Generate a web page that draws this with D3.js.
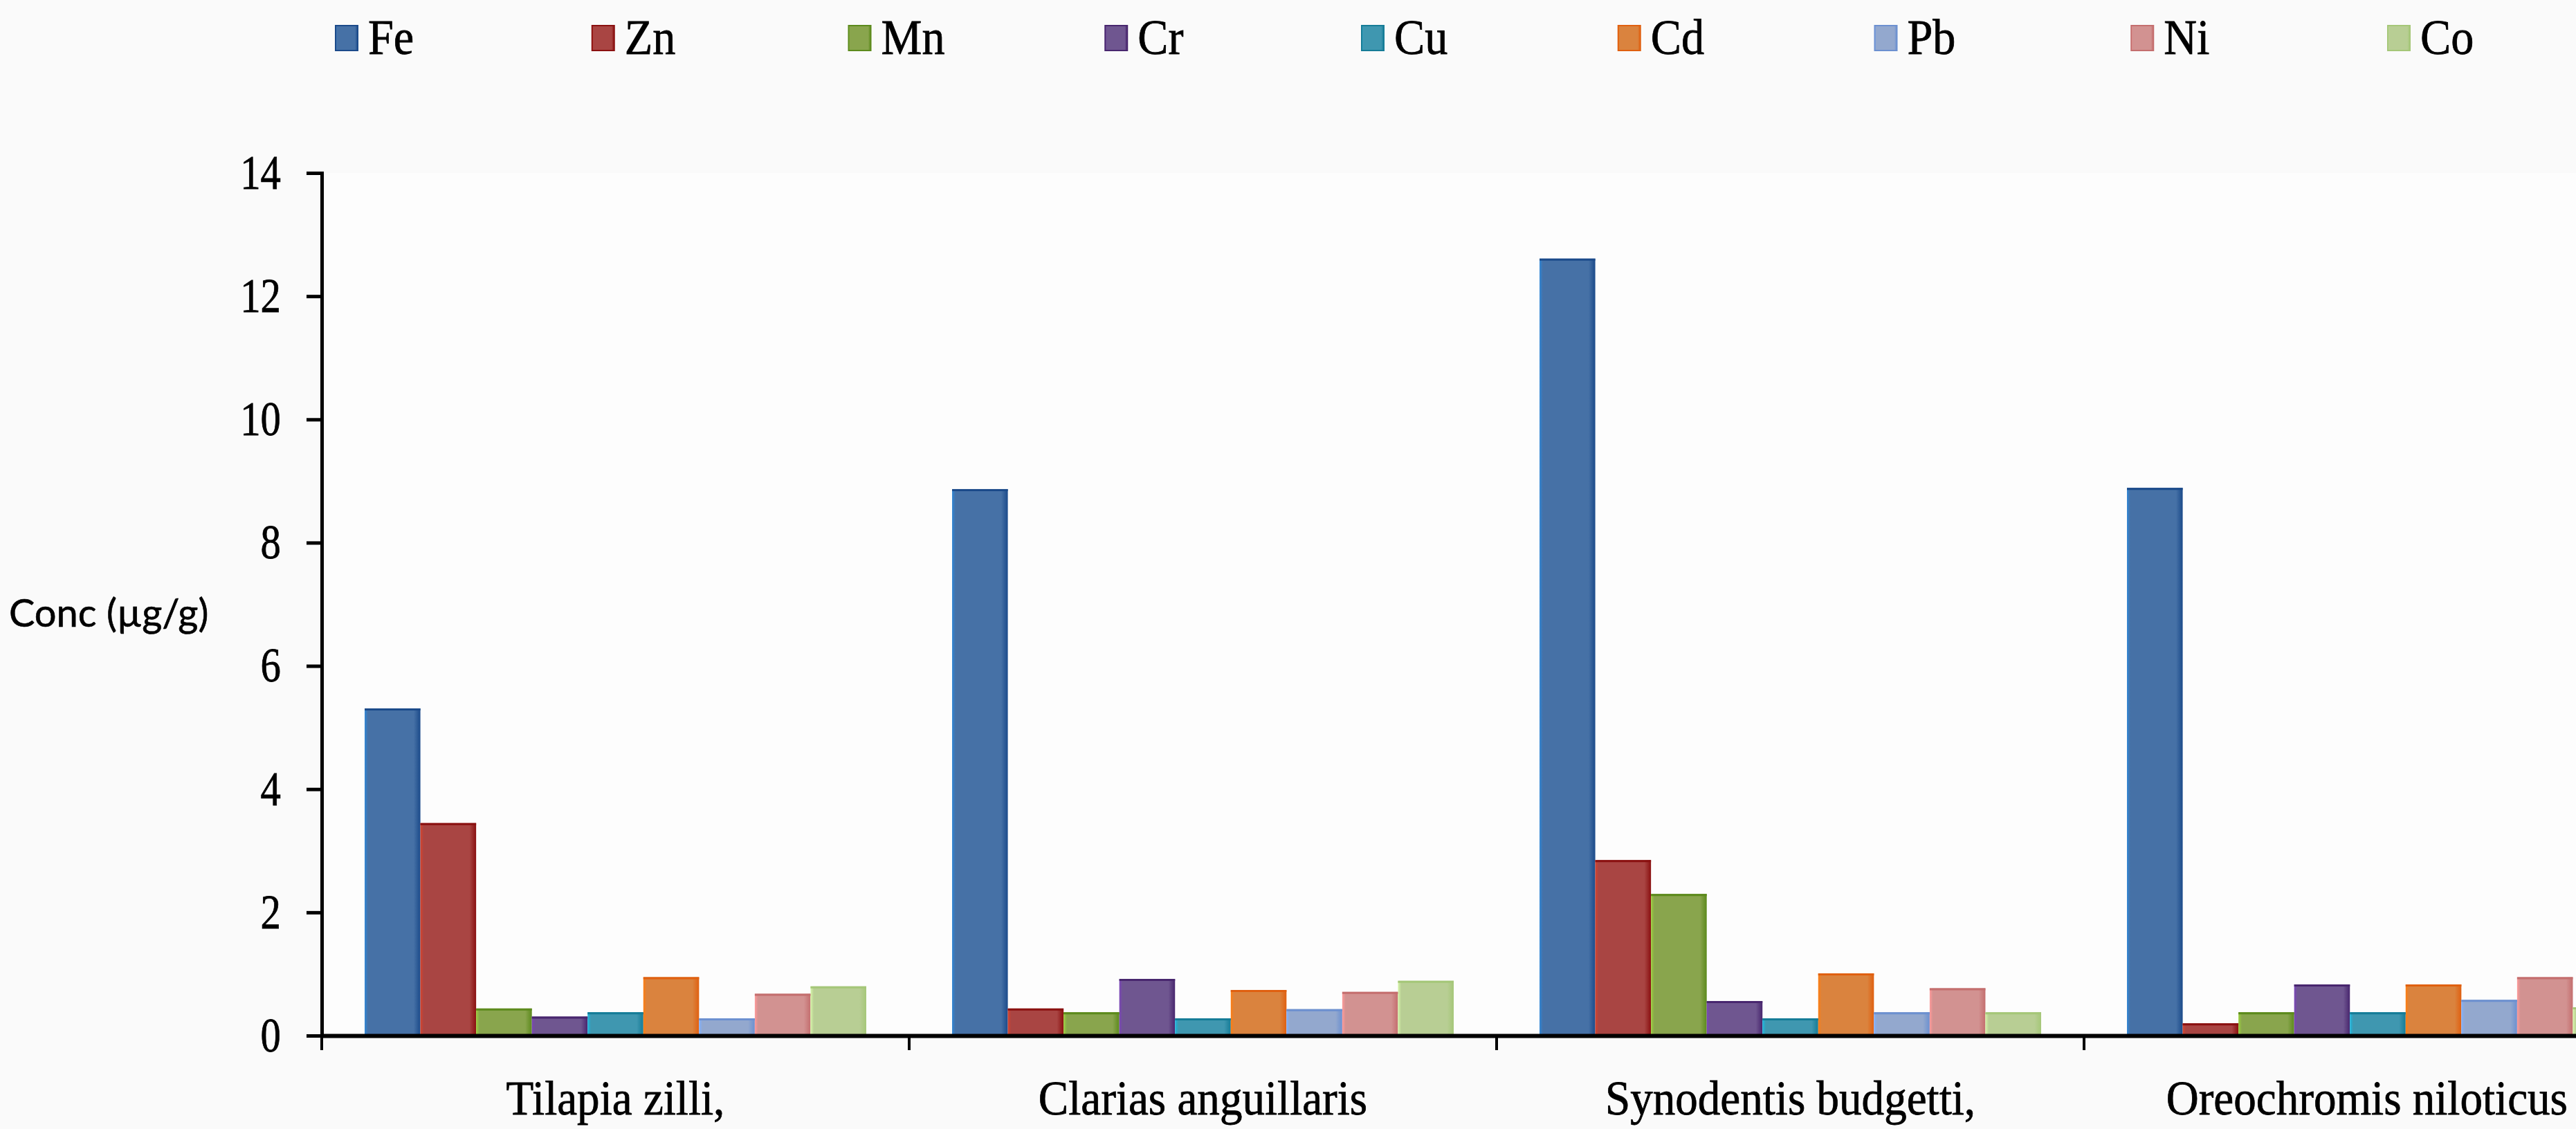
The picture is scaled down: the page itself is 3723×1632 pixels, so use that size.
<!DOCTYPE html>
<html>
<head>
<meta charset="utf-8">
<script src="https://cdn.jsdelivr.net/npm/d3@7/dist/d3.min.js"></script>
<style>
  html, body { margin: 0; padding: 0; background: #fafafa; overflow: hidden; }
</style>
</head>
<body>
<div id="chart"></div>
<script>
// fish species on the x axis
var species = ["Tilapia zilli,", "Clarias anguillaris", "Synodentis budgetti,", "Oreochromis niloticus"];
var metals = ["Fe", "Zn", "Mn", "Cr", "Cu", "Cd", "Pb", "Ni", "Co"];

// concentrations (µg/g), one value per species
var fe = [5.31, 8.87, 12.61, 8.89];
var zn = [3.45, 0.44, 2.85, 0.20];
var mn = [0.44, 0.38, 2.30, 0.38];
var cr = [0.31, 0.92, 0.56, 0.83];
var cu = [0.38, 0.28, 0.28, 0.38];
var cd = [0.95, 0.74, 1.01, 0.83];
var pb = [0.28, 0.43, 0.38, 0.58];
var ni = [0.68, 0.71, 0.77, 0.95];
var co = [0.80, 0.89, 0.38, 0.46];

var yTicks = [0, 2, 4, 6, 8, 10, 12, 14];

var series = { Fe: fe, Zn: zn, Mn: mn, Cr: cr, Cu: cu, Cd: cd, Pb: pb, Ni: ni, Co: co };

// excel 2007 style fills, with a darker edge and a light highlight
var fills = ["#4671a6", "#a94543", "#89a54d", "#6f5690", "#3f97b0", "#da833e", "#93a8ce", "#d29291", "#b8ce94"];
var edges = ["#1b4a8a", "#8a1010", "#5c8a1c", "#48266e", "#157c97", "#e06010", "#6c90d0", "#c46e6e", "#a5c778"];
var lights = ["#2f86d6", "#d8432c", "#9bd23c", "#7a44b8", "#19b8e0", "#ff7d10", "#7fb0ff", "#ff9a9a", "#d6f5a8"];

var w = 3723,
  h = 1632;

var svg = d3.select("#chart")
  .append("svg")
  .attr("width", w)
  .attr("height", h);

var serif = "'Liberation Serif', 'Times New Roman', serif";

var x0 = d3.scaleBand()
  .domain(species)
  .range([465, 465 + 4 * 849]);

var x1 = d3.scaleBand()
  .domain(metals)
  .range([0, x0.bandwidth()])
  .paddingInner(0)
  .paddingOuter(0.77);

var y = d3.scaleLinear()
  .domain([0, 14])
  .range([1497, 250]);

var color = d3.scaleOrdinal().domain(metals).range(fills);
var edge = d3.scaleOrdinal().domain(metals).range(edges);
var light = d3.scaleOrdinal().domain(metals).range(lights);

// plot area, slightly whiter than the page
svg.append("rect")
  .attr("x", x0.range()[0])
  .attr("y", y(14))
  .attr("width", w - x0.range()[0])
  .attr("height", y(0) - y(14))
  .attr("fill", "#fdfdfd");

// gradients for the bars
var defs = svg.append("defs");
metals.forEach(function(m, i) {
  var g = defs.append("linearGradient")
    .attr("id", "grad" + i)
    .attr("x1", "0%").attr("x2", "100%")
    .attr("y1", "0%").attr("y2", "0%");
  g.append("stop").attr("offset", "0%").attr("stop-color", light(m));
  g.append("stop").attr("offset", "6%").attr("stop-color", color(m));
  g.append("stop").attr("offset", "88%").attr("stop-color", color(m));
  g.append("stop").attr("offset", "100%").attr("stop-color", edge(m));
});

// bars
var groups = svg.selectAll("g.species")
  .data(species)
  .enter()
  .append("g")
  .attr("class", "species")
  .attr("transform", function(d) { return "translate(" + x0(d) + ",0)"; });

groups.selectAll("rect")
  .data(function(d, i) {
    return metals.map(function(m) { return { metal: m, value: series[m][i] }; });
  })
  .enter()
  .append("rect")
  .attr("x", function(d) { return x1(d.metal); })
  .attr("y", function(d) { return y(d.value); })
  .attr("width", x1.bandwidth())
  .attr("height", function(d) { return y(0) - y(d.value); })
  .attr("fill", function(d) { return "url(#grad" + metals.indexOf(d.metal) + ")"; });

// dark top edge of each bar
groups.selectAll("line.top")
  .data(function(d, i) {
    return metals.map(function(m) { return { metal: m, value: series[m][i] }; });
  })
  .enter()
  .append("line")
  .attr("class", "top")
  .attr("x1", function(d) { return x1(d.metal); })
  .attr("x2", function(d) { return x1(d.metal) + x1.bandwidth(); })
  .attr("y1", function(d) { return y(d.value) + 1.5; })
  .attr("y2", function(d) { return y(d.value) + 1.5; })
  .attr("stroke", function(d) { return edge(d.metal); })
  .attr("stroke-width", 3);

// y axis
var sx = 0.84;
var yAxis = svg.append("g")
  .attr("transform", "translate(" + x0.range()[0] + ",0)")
  .call(d3.axisLeft(y).tickValues(yTicks).tickSize(22).tickPadding(37).tickFormat(d3.format("d")));

yAxis.select(".domain").attr("stroke", "#000").attr("stroke-width", 5);
yAxis.selectAll(".tick line").attr("stroke", "#000").attr("stroke-width", 5);
yAxis.selectAll(".tick text")
  .attr("font-family", serif)
  .attr("font-size", 70)
  .attr("fill", "#000")
  .attr("stroke", "#000")
  .attr("stroke-width", 0.8)
  .attr("x", -59 / sx)
  .attr("transform", "scale(" + sx + ",1)");

// x axis line
var xAxis = svg.append("g")
  .attr("transform", "translate(0," + y(0) + ")")
  .call(d3.axisBottom(x0).tickSize(0).tickSizeOuter(0).tickFormat(""));
xAxis.select(".domain").attr("stroke", "#000").attr("stroke-width", 6);

// ticks between the species groups
svg.selectAll("line.sep")
  .data(species)
  .enter()
  .append("line")
  .attr("class", "sep")
  .attr("x1", function(d) { return x0(d); })
  .attr("x2", function(d) { return x0(d); })
  .attr("y1", y(0))
  .attr("y2", y(0) + 21)
  .attr("stroke", "#000")
  .attr("stroke-width", 4);

// species labels
var lx = 0.93;
svg.selectAll("text.cat")
  .data(species)
  .enter()
  .append("text")
  .attr("class", "cat")
  .attr("text-anchor", "middle")
  .attr("font-family", serif)
  .attr("font-size", 70)
  .attr("fill", "#000")
  .attr("stroke", "#000")
  .attr("stroke-width", 0.8)
  .text(function(d) { return d; })
  .attr("transform", function(d) {
    var half = this.getComputedTextLength() * lx / 2;
    var cx = Math.min(x0(d) + x0.bandwidth() / 2, w - 12 - half);
    return "translate(" + cx + "," + (y(0) + 114) + ") scale(" + lx + ",1)";
  });

// y axis title
svg.append("text")
  .attr("x", 13)
  .attr("y", (y(0) + y(14)) / 2 + 32)
  .attr("font-family", "Lato, 'Open Sans', sans-serif")
  .attr("font-size", 56)
  .attr("fill", "#000")
  .attr("stroke", "#000")
  .attr("stroke-width", 0.6)
  .text("Conc (µg/g)");

// legend along the top
var legendX = d3.scaleBand()
  .domain(metals)
  .range([485, 485 + 9 * 370.75]);

var legend = svg.selectAll("g.legend")
  .data(metals)
  .enter()
  .append("g")
  .attr("class", "legend")
  .attr("transform", function(d) { return "translate(" + legendX(d) + ",0)"; });

legend.append("rect")
  .attr("x", 0)
  .attr("y", 37)
  .attr("width", 32)
  .attr("height", 36)
  .attr("fill", function(d, i) { return "url(#grad" + i + ")"; })
  .attr("stroke", function(d) { return edge(d); })
  .attr("stroke-width", 2);

legend.append("text")
  .attr("font-family", serif)
  .attr("font-size", 72)
  .attr("fill", "#000")
  .attr("stroke", "#000")
  .attr("stroke-width", 0.8)
  .attr("transform", "translate(47,78) scale(0.92,1)")
  .text(function(d) { return d; });
</script>
</body>
</html>
